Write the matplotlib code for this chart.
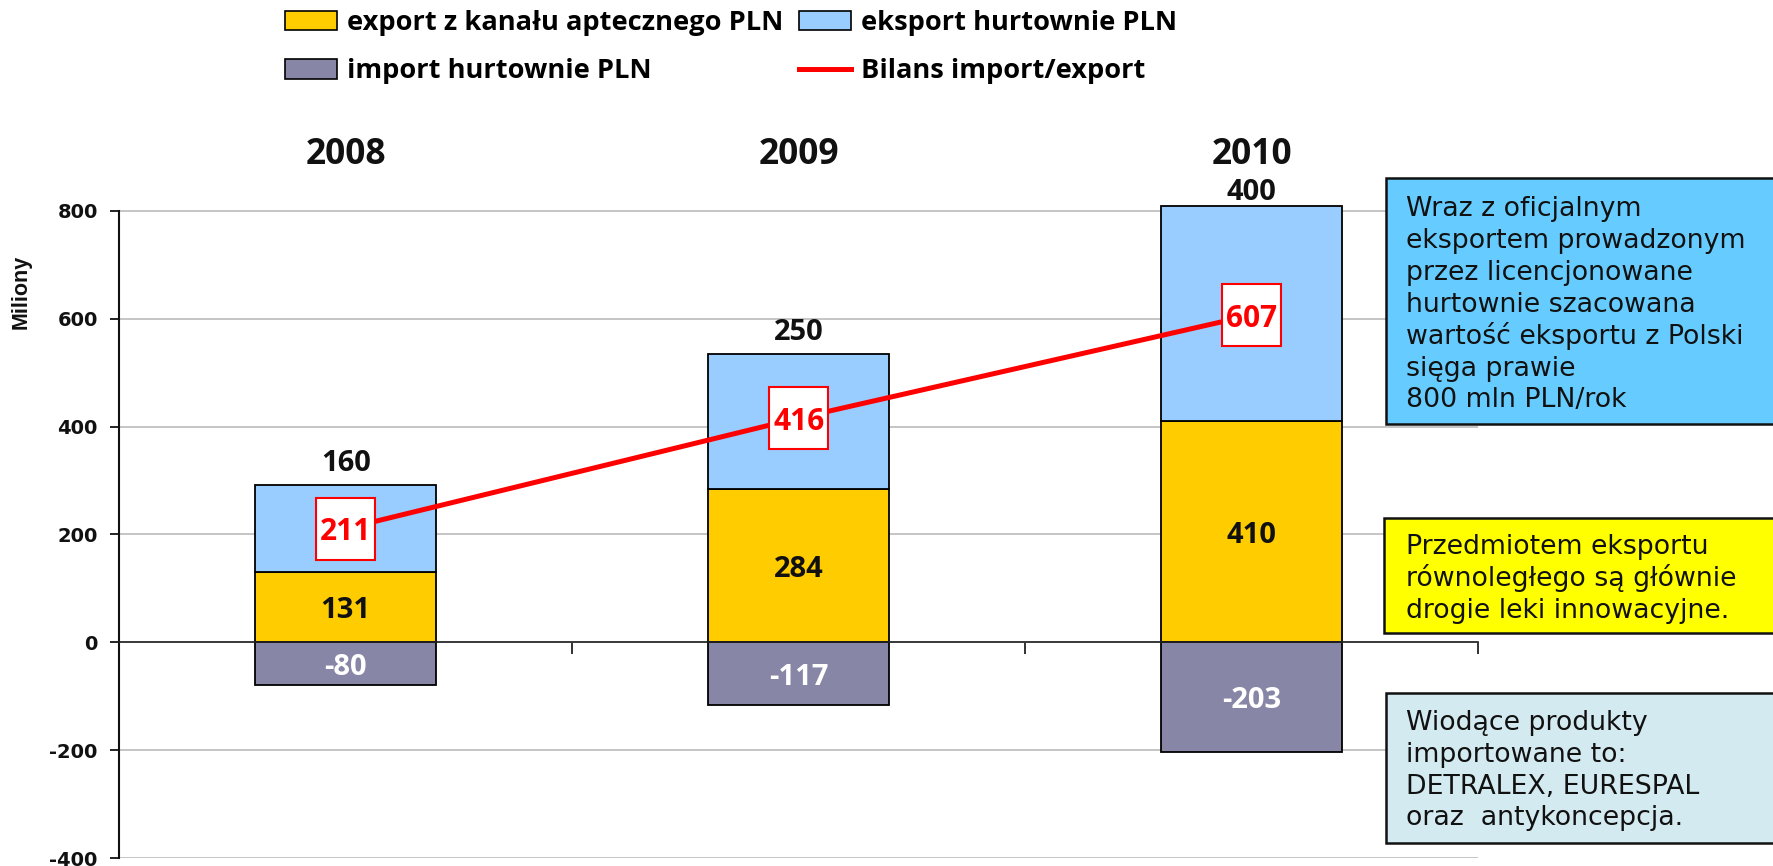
import matplotlib
matplotlib.use("Agg")
import matplotlib.pyplot as plt
from matplotlib.patches import Patch, Rectangle
from matplotlib.lines import Line2D
import numpy as np

# ---------------- data ----------------
years = ["2008", "2009", "2010"]
export_apteczny = [131, 284, 410]      # export z kanału aptecznego PLN
eksport_hurtownie = [160, 250, 400]    # eksport hurtownie PLN
import_hurtownie = [-80, -117, -203]   # import hurtownie PLN
bilans = [211, 416, 607]               # Bilans import/export
y_ticks = [-400, -200, 0, 200, 400, 600, 800]

legend_labels = ["export z kanału aptecznego PLN", "eksport hurtownie PLN",
                 "import hurtownie PLN", "Bilans import/export"]
box1_lines = ["Wraz z oficjalnym", "eksportem prowadzonym", "przez licencjonowane",
              "hurtownie szacowana", "wartość eksportu z Polski", "sięga prawie",
              "800 mln PLN/rok"]
box2_lines = ["Przedmiotem eksportu", "równoległego są głównie",
              "drogie leki innowacyjne."]
box3_lines = ["Wiodące produkty", "importowane to:", "DETRALEX, EURESPAL",
              "oraz  antykoncepcja."]

# ---------------- styles ----------------
C_YEL = "#FFCC00"
C_BLUE = "#99CCFF"
C_PURP = "#8886A6"
C_RED = "#FF0000"
CAL = ["Open Sans", "DejaVu Sans"]
VER = ["DejaVu Sans"]

W, H = 1774, 866
fig = plt.figure(figsize=(W / 100, H / 100), dpi=100)
ax_left, ax_right = 119.3, 1478
ax_bot_px, ax_top_px = 858, 194.8
ax = fig.add_axes([ax_left / W, 1 - ax_bot_px / H,
                   (ax_right - ax_left) / W, (ax_bot_px - ax_top_px) / H])

x = np.arange(len(years))
bw = 0.4
ax.bar(x, export_apteczny, bw, color=C_YEL, edgecolor="black", lw=1.3, zorder=3)
ax.bar(x, eksport_hurtownie, bw, bottom=export_apteczny, color=C_BLUE,
       edgecolor="black", lw=1.3, zorder=3)
ax.bar(x, import_hurtownie, bw, color=C_PURP, edgecolor="black", lw=1.3, zorder=3)
ax.plot(x, bilans, color=C_RED, lw=3.6, zorder=4, solid_capstyle="butt")

ax.set_xlim(-0.5, 2.5)
ax.set_ylim(-400, 830)

# px per unit
ppx = (ax_right - ax_left) / 3.0
ppy = (ax_bot_px - ax_top_px) / 1230.0
bw_lab = 59 / ppx
bh_lab = 62 / ppy
for xi, b in zip(x, bilans):
    ax.add_patch(Rectangle((xi - bw_lab / 2, b - bh_lab / 2), bw_lab, bh_lab,
                           facecolor="white", edgecolor=C_RED, lw=1.5, zorder=5))
    ax.text(xi, b, str(b), ha="center", va="center_baseline", color=C_RED,
            fontsize=21.5, fontweight="bold", family=CAL, zorder=6)

for xi, v in zip(x, export_apteczny):
    ax.text(xi, v / 2, str(v), ha="center", va="center_baseline", color="#111111",
            fontsize=21, fontweight="bold", family=CAL, zorder=6)
for xi, v in zip(x, import_hurtownie):
    ax.text(xi, v / 2, str(v), ha="center", va="center_baseline", color="white",
            fontsize=21, fontweight="bold", family=CAL, zorder=6)
top_offsets = [10.5, 10.5, 4]
for xi, a, v, off in zip(x, export_apteczny, eksport_hurtownie, top_offsets):
    ax.annotate(str(v), xy=(xi, a + v), xytext=(0, off), textcoords="offset points",
                ha="center", va="baseline", color="#111111", fontsize=21,
                fontweight="bold", family=CAL, zorder=6)
for xi, yr in zip(x, years):
    ax.annotate(yr, xy=(xi, 1), xycoords=("data", "axes fraction"),
                xytext=(0, 22.2), textcoords="offset points", ha="center",
                va="baseline", color="#111111", fontsize=25.5, fontweight="bold",
                family=CAL, annotation_clip=False)

# axes styling
ax.set_yticks(y_ticks)
ax.set_yticklabels([str(t) for t in y_ticks], fontsize=14, fontweight="bold",
                   family=VER, color="#111111")
ax.set_xticks([0.5, 1.5, 2.5])
ax.set_xticklabels([])
ax.tick_params(axis="y", length=6.5, width=1.3, pad=9, direction="out", color="#111111")
ax.tick_params(axis="x", length=8.6, width=1.3, direction="out", color="#222222")
ax.yaxis.grid(True, color="#C0C0C0", lw=1.3)
ax.set_axisbelow(True)
for s in ["top", "right"]:
    ax.spines[s].set_visible(False)
ax.spines["left"].set_bounds(-400, 800)
ax.spines["left"].set_linewidth(1.5)
ax.spines["left"].set_color("#111111")
ax.spines["bottom"].set_position(("data", 0))
ax.spines["bottom"].set_linewidth(1.2)
ax.spines["bottom"].set_color("#222222")
ax.spines["bottom"].set_zorder(3.5)

fig.text(21 / W, 1 - 292 / H, "Miliony", rotation=90, ha="center", va="center",
         fontsize=15.5, fontweight="bold", family=["Liberation Sans"], color="#111111")

# legend
handles = [Patch(facecolor=C_YEL, edgecolor="black", lw=1.2),
           Patch(facecolor=C_PURP, edgecolor="black", lw=1.2),
           Patch(facecolor=C_BLUE, edgecolor="black", lw=1.2),
           Line2D([], [], color=C_RED, lw=3.6)]
labels = [legend_labels[0], legend_labels[2], legend_labels[1], legend_labels[3]]
leg_fs = 19.6
em = leg_fs * 100 / 72
fig.legend(handles, labels, ncol=2, loc="upper left",
           bbox_to_anchor=(285 / W, 1 - 10 / H), frameon=False,
           prop={"family": CAL, "weight": "bold", "size": leg_fs},
           handlelength=52 / em, handleheight=20 / em, handletextpad=10 / em,
           columnspacing=16 / em, borderpad=0, borderaxespad=0,
           labelspacing=0.82)

# side boxes
def side_box(x0, y0, y1, color, lines, first_base, step):
    fig.add_artist(Rectangle((x0 / W, 1 - y1 / H), (W + 20 - x0) / W, (y1 - y0) / H,
                             transform=fig.transFigure, facecolor=color,
                             edgecolor="#111111", lw=1.8, zorder=10))
    for i, ln in enumerate(lines):
        fig.text(1406 / W, 1 - (first_base + i * step) / H, ln, ha="left",
                 va="baseline", fontsize=19.3, family=VER, color="#111111", zorder=11)

side_box(1386, 178, 424, "#66CCFF", box1_lines, 216, 31.9)
side_box(1384, 518, 633, "#FFFF00", box2_lines, 554, 32)
side_box(1386, 693, 843, "#D3EAF0", box3_lines, 730.5, 31.6)

fig.savefig("out.png", dpi=100)
